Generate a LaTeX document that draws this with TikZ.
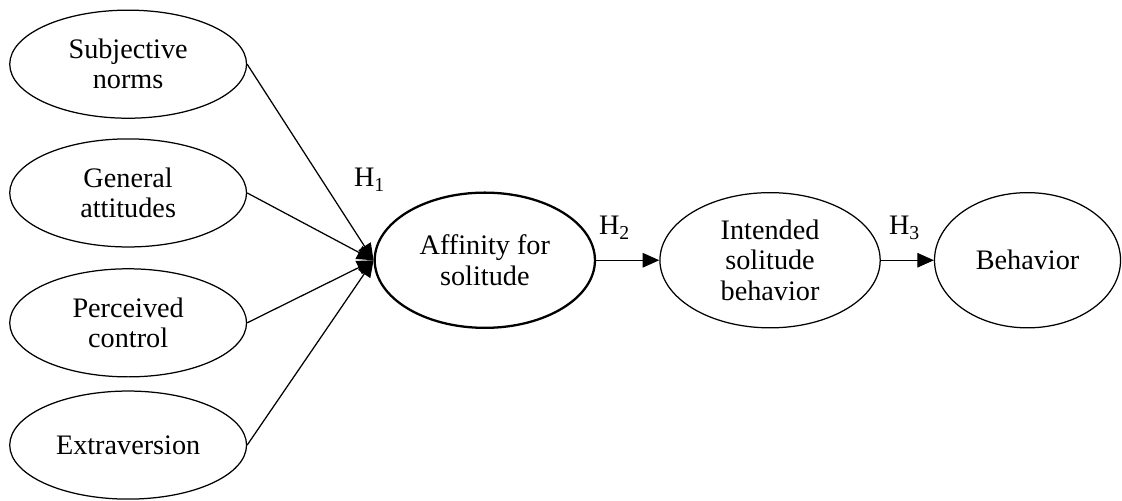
\documentclass[tikz,border=0pt]{standalone}
\usepackage{fontspec}
\setmainfont{Liberation Serif}
\usetikzlibrary{arrows.meta,positioning,shapes.geometric}
\tikzset{
  % Plain construct ellipse, thin black stroke.
  cons/.style   = {ellipse, draw=black, line width=0.6pt, align=center, inner sep=0pt,
                   font=\fontsize{13.6}{14.6}\selectfont, minimum width=#1, minimum height=1.83cm},
  cons/.default = 4.01cm,
  focal/.style  = {cons=3.73cm, line width=1.1pt, minimum height=2.29cm},
  outc/.style   = {cons=3.73cm, minimum height=2.29cm},
  path/.style   = {-{Triangle[length=8pt, width=7pt]}, line width=0.6pt},
  hyp/.style    = {font=\fontsize{13.6}{14.6}\selectfont},
}

\begin{document}
\begin{tikzpicture}
\useasboundingbox (0,0) rectangle (19,8.467);
% --- antecedents, stacked on the left ----------------------------------
\node[cons] (sn) at (2.17,7.38) {Subjective\\norms};
\node[cons] (ga) at (2.17,5.20) {General\\attitudes};
\node[cons] (pc) at (2.17,3.00) {Perceived\\control};
\node[cons] (ex) at (2.17,0.93) {Extraversion};

% --- chain ---------------------------------------------------------------
\node[focal]              (aff) at (8.21,4.06)  {Affinity for\\solitude};
\node[outc]               (int) at (13.04,4.06) {Intended\\solitude\\behavior};
\node[cons=3.15cm, minimum height=2.29cm] (beh) at (17.40,4.06) {Behavior};

% --- arrows --------------------------------------------------------------
\foreach \a in {sn, ga, pc, ex} {\draw[path] (\a.east) -- (aff.west);}
\draw[path] (aff) -- (int);
\draw[path] (int) -- (beh);

% --- hypothesis labels ---------------------------------------------------
\node[hyp] (h1) at (6.26,5.42)  {H\textsubscript{1}};
\node[hyp] (h2) at (10.41,4.61) {H\textsubscript{2}};
\node[hyp] (h3) at (15.32,4.61) {H\textsubscript{3}};
\end{tikzpicture}
\end{document}
